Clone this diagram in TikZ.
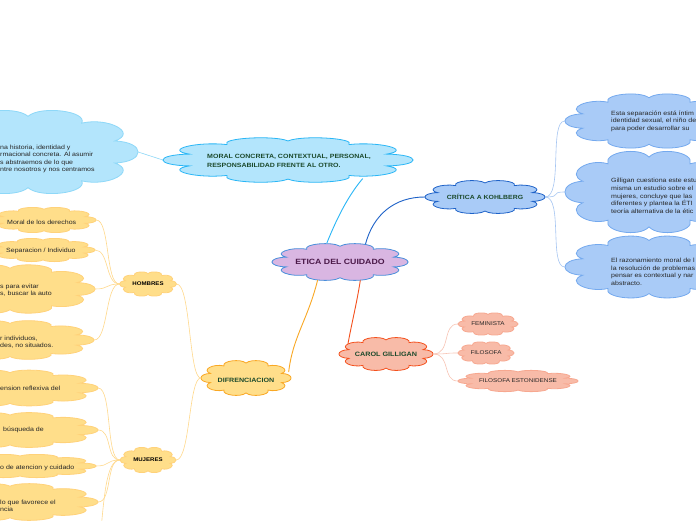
\documentclass[tikz,border=0pt]{standalone}
\usepackage{fontspec}
\setmainfont{Liberation Sans}[FakeStretch=1.15]
\usetikzlibrary{shapes.geometric}
\definecolor{lilac}{HTML}{D9B6E2}
\definecolor{lilacbd}{HTML}{4A8FDB}
\definecolor{purtxt}{HTML}{4A1848}
\definecolor{skyfill}{HTML}{B3E5FC}
\definecolor{skybd}{HTML}{29B6F6}
\definecolor{skylt}{HTML}{8ED8F8}
\definecolor{bluefill}{HTML}{A9CBF7}
\definecolor{bluebd}{HTML}{1E62C8}
\definecolor{bluelt}{HTML}{74A9EE}
\definecolor{blueline}{HTML}{A6C6F2}
\definecolor{salfill}{HTML}{F8BBA8}
\definecolor{salbd}{HTML}{F4511E}
\definecolor{sallt}{HTML}{F7A890}
\definecolor{salline}{HTML}{F8C4B4}
\definecolor{yelfill}{HTML}{FFDE8A}
\definecolor{yelbd}{HTML}{F9A825}
\definecolor{yellt}{HTML}{FFD27A}
\definecolor{yelline}{HTML}{FFD98C}
\definecolor{dkgreen}{HTML}{1C4A2C}
% name, x, y, width, height, fill, draw
\newcommand{\mycloud}[7]{%
  \begin{scope}[shift={(#2,#3)}, xscale=#4/2.41, yscale=#5/2.41]
    \filldraw[fill=#6, draw=#7, line width=0.8pt] (18:1)
      \foreach \a in {18,54,...,342}{ .. controls (\a+6:1.32) and (\a+30:1.32) .. (\a+36:1)} -- cycle;
  \end{scope}
  \node[ellipse, minimum width=#4pt, minimum height=#5pt, inner sep=0pt] (#1) at (#2,#3) {};
}
\begin{document}
\begin{tikzpicture}[x=1pt,y=-1pt,
  ttl/.style={font=\bfseries\fontsize{7}{9}\selectfont, text=dkgreen, align=left, inner sep=0pt},
  txt/.style={font=\fontsize{6.1}{7.6}\selectfont, text=black!85, align=left, inner sep=0pt},
  conn/.style={line width=0.6pt}]
\useasboundingbox (0,0) rectangle (696,520);
\clip (0,0) rectangle (696,520);
\fill[white] (0,0) rectangle (696,520);

% --- clouds ---
\mycloud{etica}{340}{262}{136}{38}{lilac}{lilacbd}
\mycloud{moral}{288}{160}{250}{46}{skyfill}{skybd}
\mycloud{lt}{28}{152}{220}{86}{skyfill}{skylt}
\mycloud{crit}{485}{197}{120}{34}{bluefill}{bluebd}
\mycloud{r1}{649}{121}{168}{56}{bluefill}{bluelt}
\mycloud{r2}{649}{192}{168}{84}{bluefill}{bluelt}
\mycloud{r3}{649}{267}{168}{64}{bluefill}{bluelt}
\mycloud{carol}{386}{354}{94}{34}{salfill}{salbd}
\mycloud{fem}{488}{324}{60}{23}{salfill}{sallt}
\mycloud{fil}{486}{353}{56}{23}{salfill}{sallt}
\mycloud{est}{518}{381}{120}{22}{salfill}{sallt}
\mycloud{dif}{246}{378}{90}{36}{yelfill}{yelbd}
\mycloud{hom}{148}{284}{57}{25}{yelfill}{yellt}
\mycloud{muj}{148}{460}{56}{26}{yelfill}{yellt}
% hombres children
\mycloud{h1}{44}{220}{104}{26}{yelfill}{yellt}
\mycloud{h2}{43}{250}{104}{24}{yelfill}{yellt}
\mycloud{h3}{10}{289}{170}{50}{yelfill}{yellt}
\mycloud{h4}{10}{340}{168}{40}{yelfill}{yellt}
% mujeres children
\mycloud{m1}{10}{388}{176}{37}{yelfill}{yellt}
\mycloud{m2}{10}{430}{176}{36}{yelfill}{yellt}
\mycloud{m3}{20}{466}{152}{24}{yelfill}{yellt}
\mycloud{m4}{10}{502}{176}{38}{yelfill}{yellt}
\coordinate (m5) at (100,540);

% --- texts ---
\node[ttl, text=purtxt, font=\bfseries\fontsize{7.6}{9}\selectfont] (etica-t) at (etica) {ETICA DEL CUIDADO};
\node[ttl, font=\bfseries\fontsize{6.1}{9.5}\selectfont, anchor=west] (moral-t) at (207,161) {MORAL CONCRETA, CONTEXTUAL, PERSONAL,\\RESPONSABILIDAD FRENTE  AL OTRO.};
\node[txt, anchor=west] (lt-t) at (0,159) {na historia, identidad y\\rmacional concreta. Al asumir\\s abstraemos de lo que\\ntre nosotros y nos centramos};
\node[ttl, font=\bfseries\fontsize{6}{9}\selectfont] (crit-t) at (crit) {CRÍTICA A KOHLBERG};
\node[txt, anchor=west] (r1-t) at (611,121) {Esta separación está íntim\\identidad sexual, el niño de\\para poder desarrollar su};
\node[txt, anchor=west] (r2-t) at (611,196) {Gilligan cuestiona este estu\\misma un estudio sobre el\\mujeres, concluye que las\\diferentes y plantea la ÉTI\\teoría alternativa de la étic};
\node[txt, anchor=west] (r3-t) at (611,272) {El razonamiento moral de l\\la resolución de problemas\\pensar es contextual y nar\\abstracto.};
\node[ttl, font=\bfseries\fontsize{6.3}{9}\selectfont] (carol-t) at (carol) {CAROL GILLIGAN};
\node[txt, font=\fontsize{5.5}{7}\selectfont] (fem-t) at (fem) {FEMINISTA};
\node[txt, font=\fontsize{5.5}{7}\selectfont] (fil-t) at (fil) {FILOSOFA};
\node[txt, font=\fontsize{5.5}{7}\selectfont] (est-t) at (est) {FILOSOFA ESTONIDENSE};
\node[ttl, font=\bfseries\fontsize{6.2}{9}\selectfont] (dif-t) at (246,380) {DIFRENCIACION};
\node[ttl, text=black, font=\bfseries\fontsize{5.3}{8}\selectfont] (hom-t) at (hom) {HOMBRES};
\node[ttl, text=black, font=\bfseries\fontsize{5.3}{8}\selectfont] (muj-t) at (muj) {MUJERES};
\node[txt, anchor=west] (h1-t) at (7,222) {Moral de los derechos};
\node[txt, anchor=west] (h2-t) at (6,251) {Separacion / Individuo};
\node[txt, anchor=west] (h3-t) at (0,290) {s para evitar\\s, buscar la auto};
\node[txt, anchor=west] (h4-t) at (0,342) {r individuos,\\des, no situados.};
\node[txt, anchor=west] (m1-t) at (0,388) {ension reflexiva del};
\node[txt, anchor=west] (m2-t) at (3,430) {búsqueda de};
\node[txt, anchor=west] (m3-t) at (0,468) {o de atencion y cuidado};
\node[txt, anchor=west] (m4-t) at (0,506) {lo que favorece el\\ncia};

% --- connectors ---
\draw[conn, draw=skylt] (lt.east) -- (moral.west);
\draw[conn, draw=skybd, line width=0.9pt] (etica.125) .. controls +(12,-30) and +(-12,14) .. (moral.-14);
\draw[conn, draw=bluebd, line width=0.9pt] (etica.35) .. controls +(8,-30) and +(-30,0) .. (crit.west);
\draw[conn, draw=salbd, line width=0.9pt] (etica.-42) .. controls +(-4,25) and +(4,-22) .. (carol.165);
\draw[conn, draw=yelbd, line width=0.9pt] (etica.219) .. controls +(-10,40) and +(4,-35) .. (dif.8);
\foreach \r in {r1,r2,r3}
  \draw[conn, draw=blueline] (crit.east) .. controls +(18,0) and +(-16,0) .. (\r.west);
\foreach \s in {fem,fil,est}
  \draw[conn, draw=salline] (carol.east) .. controls +(18,0) and +(-16,0) .. (\s.west);
\draw[conn, draw=yelline] (dif.west) .. controls +(-12,0) and +(14,0) .. (hom.east);
\draw[conn, draw=yelline] (dif.west) .. controls +(-12,0) and +(14,0) .. (muj.east);
\foreach \c in {h1,h2,h3,h4}
  \draw[conn, draw=yelline] (hom.west) .. controls +(-14,0) and +(14,0) .. (\c.east);
\foreach \c in {m1,m2,m3,m4}
  \draw[conn, draw=yelline] (muj.west) .. controls +(-14,0) and +(14,0) .. (\c.east);
\draw[conn, draw=yelline] (muj.west) .. controls +(-14,0) and +(4,-40) .. (m5);
\end{tikzpicture}
\end{document}
